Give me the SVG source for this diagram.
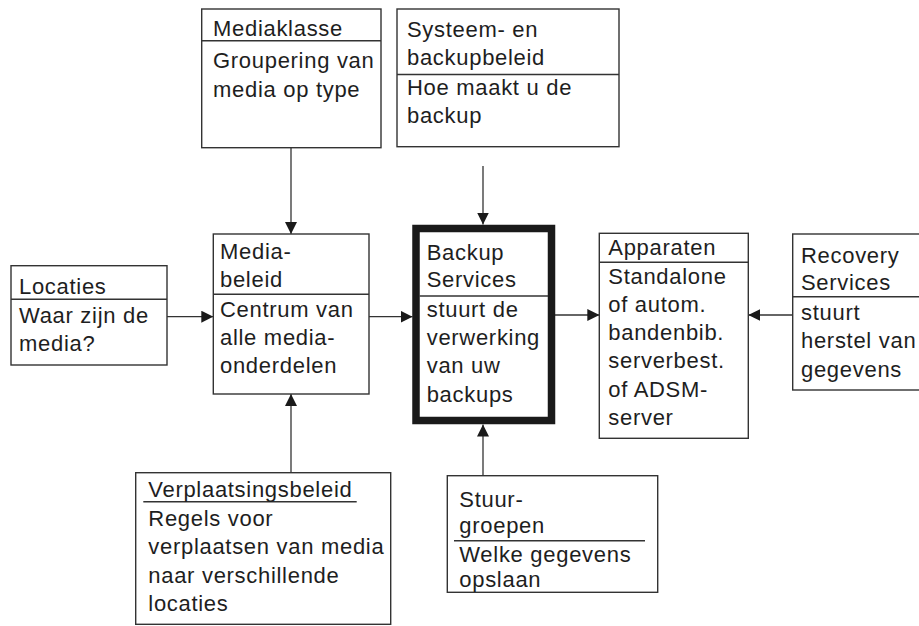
<svg xmlns="http://www.w3.org/2000/svg" width="919" height="626" viewBox="0 0 919 626">
<style>
  .box { fill: #ffffff; stroke: #333333; stroke-width: 1.4; }
  .thick { fill: #ffffff; stroke: #1a1a1a; stroke-width: 7.5; }
  .div { stroke: #333333; stroke-width: 1.4; fill: none; }
  .conn { stroke: #333333; stroke-width: 1.3; fill: none; }
  text { font-family: "Liberation Sans", Arial, sans-serif; font-size: 22px; fill: #1e1e1e; letter-spacing: 0.7px; }
</style>
<defs>
  <marker id="arrow" viewBox="0 0 12 12" refX="12" refY="6" markerWidth="12" markerHeight="12" markerUnits="userSpaceOnUse" orient="auto">
    <path d="M0,0 L12,6 L0,12 Z" fill="#1a1a1a"/>
  </marker>
</defs>
<rect width="919" height="626" fill="#ffffff"/>

<g id="connectors">
  <line class="conn" x1="291" y1="148" x2="291" y2="234" marker-end="url(#arrow)"/>
  <line class="conn" x1="483" y1="166" x2="483" y2="224.5" marker-end="url(#arrow)"/>
  <line class="conn" x1="167" y1="316.7" x2="213.3" y2="316.7" marker-end="url(#arrow)"/>
  <line class="conn" x1="369" y1="316.7" x2="412.5" y2="316.7" marker-end="url(#arrow)"/>
  <line class="conn" x1="291" y1="472.7" x2="291" y2="394" marker-end="url(#arrow)"/>
  <line class="conn" x1="483" y1="475.7" x2="483" y2="424.5" marker-end="url(#arrow)"/>
  <line class="conn" x1="555" y1="315" x2="599.3" y2="315" marker-end="url(#arrow)"/>
  <line class="conn" x1="792.7" y1="315" x2="748.3" y2="315" marker-end="url(#arrow)"/>
</g>

<g id="mediaklasse">
  <rect class="box" x="201.7" y="9" width="179.3" height="138.7"/>
  <line class="div" x1="201.7" y1="40.7" x2="381" y2="40.7"/>
  <text x="213" y="36">Mediaklasse</text>
  <text x="213" y="68">Groupering van</text>
  <text x="213" y="97">media op type</text>
</g>

<g id="systeem">
  <rect class="box" x="397" y="9" width="222" height="137.7"/>
  <line class="div" x1="397" y1="74.5" x2="619" y2="74.5"/>
  <text x="407" y="37">Systeem- en</text>
  <text x="407" y="65">backupbeleid</text>
  <text x="407" y="95">Hoe maakt u de</text>
  <text x="407" y="123">backup</text>
</g>

<g id="locaties">
  <rect class="box" x="11" y="265.7" width="156" height="99.3"/>
  <line class="div" x1="11" y1="299.3" x2="167" y2="299.3"/>
  <text x="19" y="294">Locaties</text>
  <text x="19" y="322.7">Waar zijn de</text>
  <text x="19" y="351">media?</text>
</g>

<g id="mediabeleid">
  <rect class="box" x="213.3" y="234" width="155.7" height="160"/>
  <line class="div" x1="213.3" y1="294.3" x2="369" y2="294.3"/>
  <text x="220" y="259">Media-</text>
  <text x="220" y="287.3">beleid</text>
  <text x="220" y="316.7">Centrum van</text>
  <text x="220" y="345">alle media-</text>
  <text x="220" y="372.7">onderdelen</text>
</g>

<g id="backupservices">
  <rect class="thick" x="416" y="228.5" width="135.5" height="192"/>
  <line class="div" x1="419.5" y1="296" x2="548" y2="296"/>
  <text x="426.7" y="260">Backup</text>
  <text x="426.7" y="286.7">Services</text>
  <text x="426.7" y="316.7">stuurt de</text>
  <text x="426.7" y="345">verwerking</text>
  <text x="426.7" y="372.7">van uw</text>
  <text x="426.7" y="401.7">backups</text>
</g>

<g id="apparaten">
  <rect class="box" x="599.3" y="233.3" width="149" height="205"/>
  <line class="div" x1="599.3" y1="262.3" x2="748.3" y2="262.3"/>
  <text x="608.3" y="255">Apparaten</text>
  <text x="608.3" y="284">Standalone</text>
  <text x="608.3" y="311.7">of autom.</text>
  <text x="608.3" y="340">bandenbib.</text>
  <text x="608.3" y="368.3">serverbest.</text>
  <text x="608.3" y="396.7">of ADSM-</text>
  <text x="608.3" y="425">server</text>
</g>

<g id="recovery">
  <rect class="box" x="792.7" y="234" width="140" height="156"/>
  <line class="div" x1="792.7" y1="296.7" x2="932.7" y2="296.7"/>
  <text x="801" y="263.3">Recovery</text>
  <text x="801" y="290">Services</text>
  <text x="801" y="320">stuurt</text>
  <text x="801" y="348.3">herstel van</text>
  <text x="801" y="376.7">gegevens</text>
</g>

<g id="verplaatsingsbeleid">
  <rect class="box" x="135.7" y="472.7" width="255" height="151.6"/>
  <line class="div" x1="143.3" y1="501.7" x2="356.7" y2="501.7"/>
  <text x="148.3" y="497.3">Verplaatsingsbeleid</text>
  <text x="148.3" y="526">Regels voor</text>
  <text x="148.3" y="554.3">verplaatsen van media</text>
  <text x="148.3" y="582.7">naar verschillende</text>
  <text x="148.3" y="610.7">locaties</text>
</g>

<g id="stuurgroepen">
  <rect class="box" x="447.3" y="475.7" width="210.4" height="116.6"/>
  <line class="div" x1="454" y1="540.7" x2="645" y2="540.7"/>
  <text x="459.3" y="506.7">Stuur-</text>
  <text x="459.3" y="533.3">groepen</text>
  <text x="459.3" y="561.7">Welke gegevens</text>
  <text x="459.3" y="586.7">opslaan</text>
</g>
</svg>
